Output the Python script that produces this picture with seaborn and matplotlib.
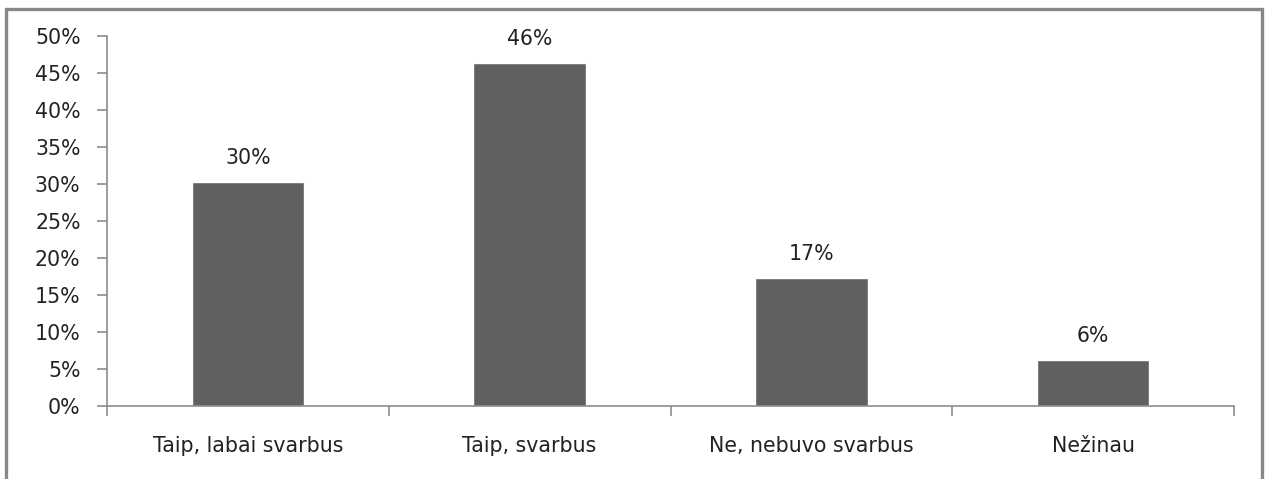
import numpy as np
import pandas as pd
import seaborn as sns
import matplotlib.pyplot as plt
from matplotlib.lines import Line2D
from matplotlib.ticker import FixedLocator, FuncFormatter

categories = ['Taip, labai svarbus', 'Taip, svarbus', 'Ne, nebuvo svarbus', 'Nežinau']
values = [30.3, 46.3, 17.3, 6.2]
y_ticks = list(range(0, 55, 5))

df = pd.DataFrame({'answer': categories, 'share': values})

sns.set_style('white')
plt.rcParams['font.family'] = ['DejaVu Sans']
fs = 14.8

fig = plt.figure(figsize=(12.68, 4.79), dpi=100)
ax = fig.add_axes([107 / 1268, 1 - 406 / 479, (1234 - 107) / 1268, (406 - 36) / 479])

sns.barplot(data=df, x='answer', y='share', color='#606060', width=0.4,
            saturation=1, ax=ax)

for i, v in enumerate(values):
    ax.annotate(f'{round(v)}%', (i, v), xytext=(0, 10), textcoords='offset points',
                ha='center', va='bottom', fontsize=fs, color='#222222')

ax.set_xlim(-0.5, len(categories) - 0.5)
ax.set_ylim(0, 50)
ax.set_yticks(y_ticks)
ax.yaxis.set_major_formatter(FuncFormatter(lambda v, p: f'{v:.0f}%'))
ax.xaxis.set_minor_locator(FixedLocator(np.arange(-0.5, len(categories), 1.0)))
ax.set_xlabel('')
ax.set_ylabel('')

gray = '#8c8c8c'
for s in ['top', 'right']:
    ax.spines[s].set_visible(False)
for s in ['left', 'bottom']:
    ax.spines[s].set_color(gray)
    ax.spines[s].set_linewidth(1.2)
ax.tick_params(axis='y', direction='out', length=7, width=1.2, color=gray,
               labelsize=fs, labelcolor='#222222', pad=12, left=True)
ax.tick_params(axis='x', which='major', length=0, labelsize=fs,
               labelcolor='#222222', pad=21.5)
ax.tick_params(axis='x', which='minor', direction='out', length=7, width=1.2,
               color=gray, bottom=True)

# outer chart frame, open at the bottom
lx, rx, ty = 6 / 1268, 1262 / 1268, 1 - 9 / 479
for xs, ys in [([lx, rx], [ty, ty]), ([lx, lx], [ty, -0.1]), ([rx, rx], [ty, -0.1])]:
    fig.add_artist(Line2D(xs, ys, transform=fig.transFigure, color='#878787', lw=2.4))

fig.savefig('out.png', dpi=100)
